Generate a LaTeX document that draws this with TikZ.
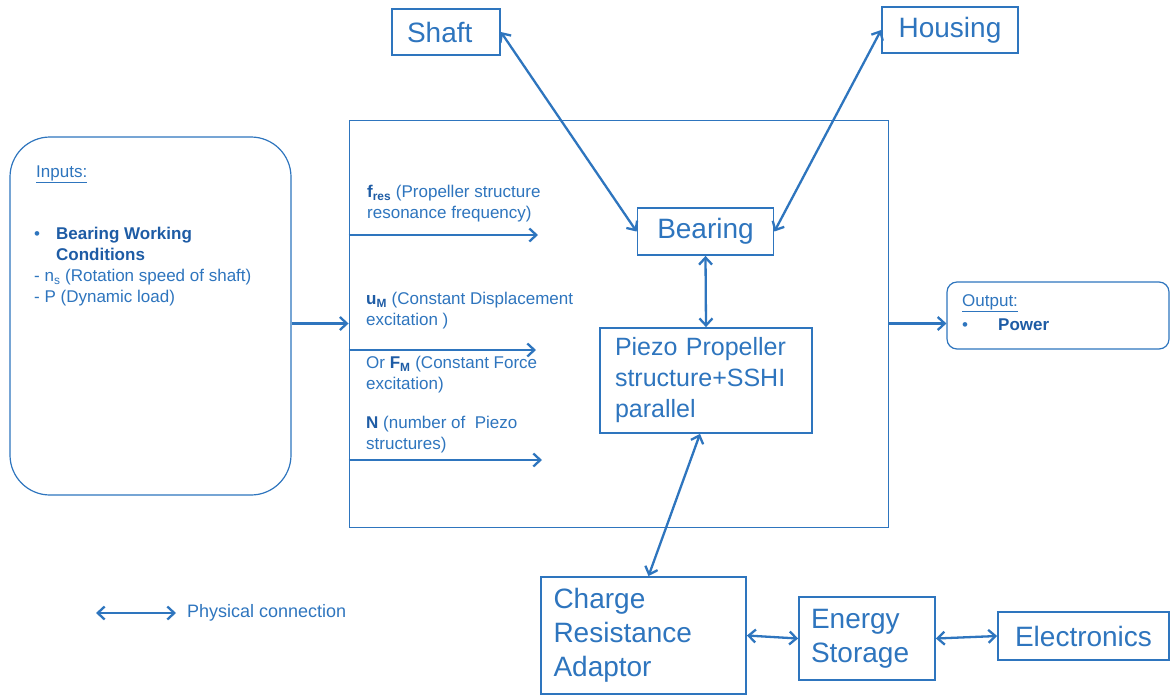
\documentclass[tikz,border=0pt]{standalone}
\usepackage{fontspec}
\setmainfont{Liberation Sans}
\usepackage{tikz}
\usetikzlibrary{arrows.meta, positioning, calc}
\usepackage{xcolor}
\definecolor{diagblue}{RGB}{46,117,190}
\definecolor{deepblue}{RGB}{30,92,165}

\begin{document}
\begin{tikzpicture}[
    x=1pt, y=-1pt,
    box/.style = {rectangle, draw=diagblue, line width=1.8pt, fill=white, text=diagblue, align=left, inner sep=0pt, font=\fontsize{28}{34}\selectfont},
    roundbox/.style = {box, line width=1.2pt},
    note/.style = {anchor=north west, inner sep=0pt, align=left, text=diagblue, font=\fontsize{17}{21}\selectfont},
    link/.style = {{Straight Barb[length=7pt,width=13pt]}-{Straight Barb[length=7pt,width=13pt]}, draw=diagblue, line width=2.3pt},
    feed/.style = {-{Straight Barb[length=7pt,width=13pt]}, draw=diagblue, line width=2.3pt}
]
    \useasboundingbox (0,0) rectangle (1172,697);

    % 1. Main frame and the boxes inside it
    \node [box, line width=0.9pt, minimum width=539pt, minimum height=407pt] (frame) at (618.5,323.5) {};
    \node [box, minimum width=136pt, minimum height=47pt] (bearing) at (705.5,231.5) {Bearing};
    \node [box, minimum width=212pt, minimum height=105pt, text width=182pt, font=\fontsize{25}{31}\selectfont] (piezo) at (706,380.5) {Piezo Propeller\\structure+SSHI\\parallel};

    % 2. Shaft and Housing on top
    \node [box, minimum width=108pt, minimum height=46pt, text width=78pt] (shaft) at (446,32) {Shaft};
    \node [box, minimum width=136pt, minimum height=46pt] (housing) at (950,30) {Housing};

    % 3. Inputs and Output
    \node [roundbox, rounded corners=40pt, minimum width=281pt, minimum height=358pt] (inputs) at (150.5,316) {};
    \node [note, anchor=base west] (inhead) at (36,177) {\underline{Inputs:}};
    \node [note] (inlist) at (34,227) {\makebox[22pt][l]{\textbullet}{\color{deepblue}\bfseries Bearing Working}\\
        \hspace*{22pt}{\color{deepblue}\bfseries Conditions}\\
        - n\textsubscript{s} (Rotation speed of shaft)\\
        - P (Dynamic load)};
    \node [roundbox, rounded corners=10pt, minimum width=222pt, minimum height=67pt] (output) at (1058,315.5) {};
    \node [note, anchor=base west] (outhead) at (962,306) {\underline{Output:}};
    \node [note, anchor=base west] (outlist) at (962,330) {\makebox[36pt][l]{\textbullet}{\color{deepblue}\bfseries Power}};

    % 4. Storage chain at the bottom
    \node [box, minimum width=205pt, minimum height=117pt, text width=180pt] (adaptor) at (643.5,635.5) {Charge\\Resistance\\Adaptor};
    \node [box, minimum width=136pt, minimum height=83pt, text width=112pt] (storage) at (867,638.5) {Energy\\Storage};
    \node [box, minimum width=171pt, minimum height=48pt] (electronics) at (1083.5,636) {Electronics};

    % 5. Parameter labels inside the frame
    \node [note] (fres) at (367,185) {{\color{deepblue}\bfseries f\textsubscript{res}} (Propeller structure\\resonance frequency)};
    \node [note] (um) at (366,292) {{\color{deepblue}\bfseries u\textsubscript{M}} (Constant Displacement\\excitation )};
    \node [note] (fm) at (366,356) {Or {\color{deepblue}\bfseries F\textsubscript{M}} (Constant Force\\excitation)};
    \node [note] (num) at (366,416) {{\color{deepblue}\bfseries N} (number of\ \ Piezo\\structures)};

    \coordinate (fresend) at (538,235);
    \coordinate (umend) at (536,350);
    \coordinate (numend) at (542,460);
    \draw [feed] (frame.west |- fresend) -- (fresend);
    \draw [feed] (frame.west |- umend) -- (umend);
    \draw [feed] (frame.west |- numend) -- (numend);

    % 6. Interconnections (Arrows)
    \draw [feed] (inputs.east |- frame.west) -- (frame.west);
    \draw [feed] (frame.east) -- (frame.east -| output.west);
    \draw [link] (shaft.east) -- (bearing.west);
    \draw [link] (housing.west) -- (bearing.east);
    \draw [link] (bearing.south) -- (piezo.north);
    \draw [link] ($(piezo.south)+(-6,0)$) -- ($(adaptor.north)+(5,0)$);
    \draw [link] (adaptor.east) -- (storage.west);
    \draw [link] (storage.east) -- (electronics.west);

    % 7. Legend
    \coordinate (legleft) at (96,613);
    \coordinate (legright) at (176,613);
    \draw [link] (legleft) -- (legright);
    \node [note, anchor=west, font=\fontsize{18}{22}\selectfont] (legend) at (187,613) {Physical connection};
\end{tikzpicture}
\end{document}
